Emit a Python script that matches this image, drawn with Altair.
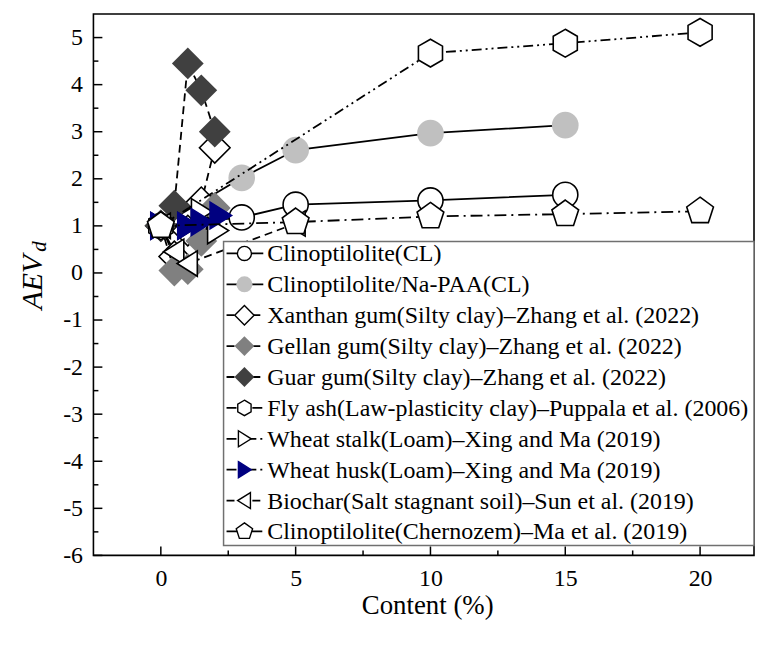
import altair as alt
import pandas as pd

# ---------------- data ----------------
names = [
    "Clinoptilolite(CL)",
    "Clinoptilolite/Na-PAA(CL)",
    "Xanthan gum(Silty clay)\u2013Zhang et al. (2022)",
    "Gellan gum(Silty clay)\u2013Zhang et al. (2022)",
    "Guar gum(Silty clay)\u2013Zhang et al. (2022)",
    "Fly ash(Law-plasticity clay)\u2013Puppala et al. (2006)",
    "Wheat stalk(Loam)\u2013Xing and Ma (2019)",
    "Wheat husk(Loam)\u2013Xing and Ma (2019)",
    "Biochar(Salt stagnant soil)\u2013Sun et al. (2019)",
    "Clinoptilolite(Chernozem)\u2013Ma et al. (2019)",
]

x_cl = [0, 3, 5, 10, 15]
y_cl = [1.0, 1.18, 1.45, 1.54, 1.66]
x_napaa = [0, 3, 5, 10, 15]
y_napaa = [1.0, 2.02, 2.61, 2.97, 3.14]
x_xanthan = [0, 0.5, 1.0, 1.5, 2.0]
y_xanthan = [1.0, 0.35, 0.9, 1.5, 2.66]
x_gellan = [0, 0.5, 1.0, 1.5, 2.0]
y_gellan = [1.0, 0.05, 0.08, 0.68, 1.38]
x_guar = [0, 0.5, 1.0, 1.5, 2.0]
y_guar = [1.0, 1.43, 4.45, 3.88, 3.0]
x_flyash = [0, 10, 15, 20]
y_flyash = [1.0, 4.67, 4.88, 5.11]
x_stalk = [0, 1.0, 1.5, 2.1]
y_stalk = [1.0, 1.0, 1.3, 0.9]
x_husk = [0, 1.0, 1.5, 2.2]
y_husk = [1.0, 1.0, 1.08, 1.22]
x_biochar = [0, 0.5, 1.0, 5.0]
y_biochar = [1.0, 0.45, 0.2, 1.05]
x_chern = [0, 5, 10, 15, 20]
y_chern = [1.0, 1.08, 1.2, 1.25, 1.31]

x_ticks_major = [0, 5, 10, 15, 20]
x_ticks_minor = [2.5, 7.5, 12.5, 17.5]
y_ticks_major = [-6, -5, -4, -3, -2, -1, 0, 1, 2, 3, 4, 5]
y_ticks_minor = [-5.5, -4.5, -3.5, -2.5, -1.5, -0.5, 0.5, 1.5, 2.5, 3.5, 4.5]

# ---------------- styles ----------------
HEX = "M0,-1L0.866,-0.5L0.866,0.5L0,1L-0.866,0.5L-0.866,-0.5Z"
PENT = "M0,-1L0.951,-0.309L0.588,0.809L-0.588,0.809L-0.951,-0.309Z"
TRI_R = "M-0.75,-1L0.85,0L-0.75,1Z"
TRI_L = "M0.75,-1L-0.85,0L0.75,1Z"

series = [
    # xs, ys, shape, size, legend size, fill, stroke, dash
    (x_cl, y_cl, "circle", 640, 200, "white", "black", None),
    (x_napaa, y_napaa, "circle", 720, 260, "#c0c0c0", None, None),
    (x_xanthan, y_xanthan, "diamond", 950, 380, "white", "black", [8, 5]),
    (x_gellan, y_gellan, "diamond", 1024, 400, "#808080", None, [8, 5]),
    (x_guar, y_guar, "diamond", 1024, 400, "#404040", None, [8, 5]),
    (x_flyash, y_flyash, HEX, 784, 240, "white", "black", [10, 4, 2, 4, 2, 4]),
    (x_stalk, y_stalk, TRI_R, 700, 260, "white", "black", [10, 4, 2, 4]),
    (x_husk, y_husk, TRI_R, 730, 260, "#000080", "#000080", [10, 4, 2, 4]),
    (x_biochar, y_biochar, TRI_L, 650, 260, "white", "black", [8, 5]),
    (x_chern, y_chern, PENT, 800, 300, "white", "black", [12, 5, 2, 5]),
]

W, H = 665, 545
xscale = alt.Scale(domain=[-2.5, 22], nice=False, zero=False)
yscale = alt.Scale(domain=[-6, 5.5], nice=False, zero=False)
FONT = "Liberation Serif"

xaxis = alt.Axis(values=x_ticks_major, ticks=False, tickSize=0, domain=False, grid=False,
                 labelFont=FONT, labelFontSize=24, labelColor="black", labelPadding=11)
yaxis = alt.Axis(values=y_ticks_major, ticks=False, tickSize=0, domain=False, grid=False,
                 labelFont=FONT, labelFontSize=24, labelColor="black", labelPadding=11,
                 labelExpr="datum.value < 0 ? '-' + abs(datum.value) : '' + datum.value")


def X(field="x"):
    return alt.X(f"{field}:Q", scale=xscale, axis=xaxis, title=None)


def Y(field="y"):
    return alt.Y(f"{field}:Q", scale=yscale, axis=yaxis, title=None)


layers = []
for xs, ys, shape, size, lsize, fill, stroke, dash in series:
    df = pd.DataFrame({"x": xs, "y": ys})
    base = alt.Chart(df).encode(x=X(), y=Y())
    lkw = dict(color="black", strokeWidth=1.8)
    if dash:
        lkw["strokeDash"] = dash
    layers.append(base.mark_line(**lkw))
    pkw = dict(shape=shape, size=size, filled=True, fill=fill, opacity=1, fillOpacity=1)
    if stroke:
        pkw.update(stroke=stroke, strokeWidth=1.6, strokeOpacity=1)
    else:
        pkw.update(strokeWidth=0)
    layers.append(base.mark_point(**pkw))

# inward ticks
tk = dict(color="black", strokeWidth=1.5)
layers.append(alt.Chart(pd.DataFrame({"y": y_ticks_major})).mark_rule(**tk).encode(
    y=Y(), x=alt.value(0), x2=alt.value(9)))
layers.append(alt.Chart(pd.DataFrame({"y": y_ticks_minor})).mark_rule(**tk).encode(
    y=Y(), x=alt.value(0), x2=alt.value(5)))
layers.append(alt.Chart(pd.DataFrame({"x": x_ticks_major})).mark_rule(**tk).encode(
    x=X(), y=alt.value(H), y2=alt.value(H - 9)))
layers.append(alt.Chart(pd.DataFrame({"x": x_ticks_minor})).mark_rule(**tk).encode(
    x=X(), y=alt.value(H), y2=alt.value(H - 5)))

# legend box
one = pd.DataFrame({"a": [0]})
LX0, LX1, LY0, LY1 = 131, 665, 229, 535
layers.append(alt.Chart(one).mark_rect(fill="white", stroke="#707070", strokeWidth=1.5).encode(
    x=alt.value(LX0), x2=alt.value(LX1), y=alt.value(LY0), y2=alt.value(LY1)))

ROW0, DROW = 241, 31.1
for i, (name, s) in enumerate(zip(names, series)):
    xs, ys, shape, size, lsize, fill, stroke, dash = s
    ry = ROW0 + i * DROW
    lkw = dict(color="black", strokeWidth=1.8)
    if dash:
        lkw["strokeDash"] = dash
    layers.append(alt.Chart(one).mark_rule(**lkw).encode(
        x=alt.value(134), x2=alt.value(171), y=alt.value(ry)))
    pkw = dict(shape=shape, size=lsize, filled=True, fill=fill, opacity=1)
    if stroke:
        pkw.update(stroke=stroke, strokeWidth=1.4)
    else:
        pkw.update(strokeWidth=0)
    layers.append(alt.Chart(one).mark_point(**pkw).encode(x=alt.value(152), y=alt.value(ry)))
    layers.append(alt.Chart(pd.DataFrame({"t": [name]})).mark_text(
        font=FONT, fontSize=24.1, align="left", baseline="middle", color="black").encode(
        x=alt.value(175), y=alt.value(ry + 1), text="t:N"))

# axis titles
layers.append(alt.Chart(pd.DataFrame({"t": ["Content (%)"]})).mark_text(
    font=FONT, fontSize=27, align="center", baseline="middle", color="black").encode(
    x=alt.value(W / 2 + 4), y=alt.value(596), text="t:N"))
layers.append(alt.Chart(pd.DataFrame({"t": ["AEV"]})).mark_text(
    font=FONT, fontSize=30, fontStyle="italic", align="center", baseline="middle",
    angle=270, color="black").encode(
    x=alt.value(-61), y=alt.value(270), text="t:N"))
layers.append(alt.Chart(pd.DataFrame({"t": ["d"]})).mark_text(
    font=FONT, fontSize=21, fontStyle="italic", align="center", baseline="middle",
    angle=270, color="black").encode(
    x=alt.value(-54), y=alt.value(234), text="t:N"))

chart = alt.layer(*layers).properties(
    width=W, height=H,
    autosize=alt.AutoSizeParams(type="none"),
    padding={"left": 86, "top": 4, "right": 2, "bottom": 70},
).configure_view(stroke="black", strokeWidth=1.6)

chart.save("out.html", embed_options={"renderer": "svg", "actions": False})
